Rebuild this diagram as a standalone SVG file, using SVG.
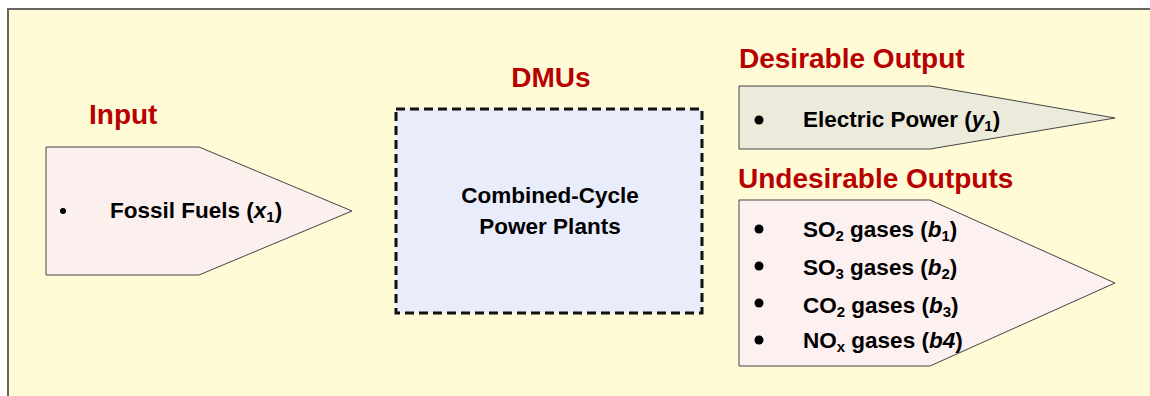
<svg xmlns="http://www.w3.org/2000/svg" width="1150" height="396" viewBox="0 0 1150 396">
<style>
.bg{fill:#FFFBD7;stroke:#666;stroke-width:2}
.arrow{stroke:#444;stroke-width:1}
.title{font-family:"Liberation Sans",Arial,sans-serif;font-weight:bold;font-size:28px;fill:#B80000}
.t{font-family:"Liberation Sans",Arial,sans-serif;font-weight:bold;font-size:22.5px;fill:#000}
.sub{font-size:15px}
.dot{fill:#000}
</style>
<rect class="bg" x="8" y="9" width="1150" height="400"/>
<g id="input">
<text class="title" x="89" y="124">Input</text>
<polygon class="arrow" fill="#FCF0EE" points="46,147 199,147 352,211 199,275 46,275"/>
<circle class="dot" cx="63" cy="211" r="3"/>
<text class="t" x="110" y="218">Fossil Fuels (<tspan font-style="italic">x</tspan><tspan class="sub" dy="4">1</tspan><tspan dy="-4">)</tspan></text>
</g>
<g id="dmus">
<text class="title" x="551" y="87" text-anchor="middle">DMUs</text>
<rect x="396" y="109" width="306" height="204" fill="#E9ECFB" stroke="#111" stroke-width="3" stroke-dasharray="9,5"/>
<text class="t" x="550" y="203" text-anchor="middle">Combined-Cycle</text>
<text class="t" x="550" y="234" text-anchor="middle">Power Plants</text>
</g>
<g id="desirable">
<text class="title" x="739" y="68">Desirable Output</text>
<polygon class="arrow" fill="#EBEADB" points="739,86 930,86 1115,118 930,149 739,149"/>
<circle class="dot" cx="759" cy="120" r="4.5"/>
<text class="t" x="803" y="127">Electric Power (<tspan font-style="italic">y</tspan><tspan class="sub" dy="4">1</tspan><tspan dy="-4">)</tspan></text>
</g>
<g id="undesirable">
<text class="title" x="738" y="188">Undesirable Outputs</text>
<polygon class="arrow" fill="#FDF0F0" points="739,200 930,200 1115,283 930,366 739,366"/>
<circle class="dot" cx="759" cy="229" r="4.5"/>
<circle class="dot" cx="759" cy="266" r="4.5"/>
<circle class="dot" cx="759" cy="303" r="4.5"/>
<circle class="dot" cx="759" cy="340" r="4.5"/>
<text class="t" x="803" y="237">SO<tspan class="sub" dy="4">2</tspan><tspan dy="-4"> gases (</tspan><tspan font-style="italic">b</tspan><tspan class="sub" dy="4">1</tspan><tspan dy="-4">)</tspan></text>
<text class="t" x="803" y="275">SO<tspan class="sub" dy="4">3</tspan><tspan dy="-4"> gases (</tspan><tspan font-style="italic">b</tspan><tspan class="sub" dy="4">2</tspan><tspan dy="-4">)</tspan></text>
<text class="t" x="803" y="313">CO<tspan class="sub" dy="4">2</tspan><tspan dy="-4"> gases (</tspan><tspan font-style="italic">b</tspan><tspan class="sub" dy="4">3</tspan><tspan dy="-4">)</tspan></text>
<text class="t" x="803" y="348">NO<tspan class="sub" dy="4">x</tspan><tspan dy="-4"> gases (</tspan><tspan font-style="italic">b4</tspan>)</text>
</g>
<g id="connectors"></g>
</svg>
